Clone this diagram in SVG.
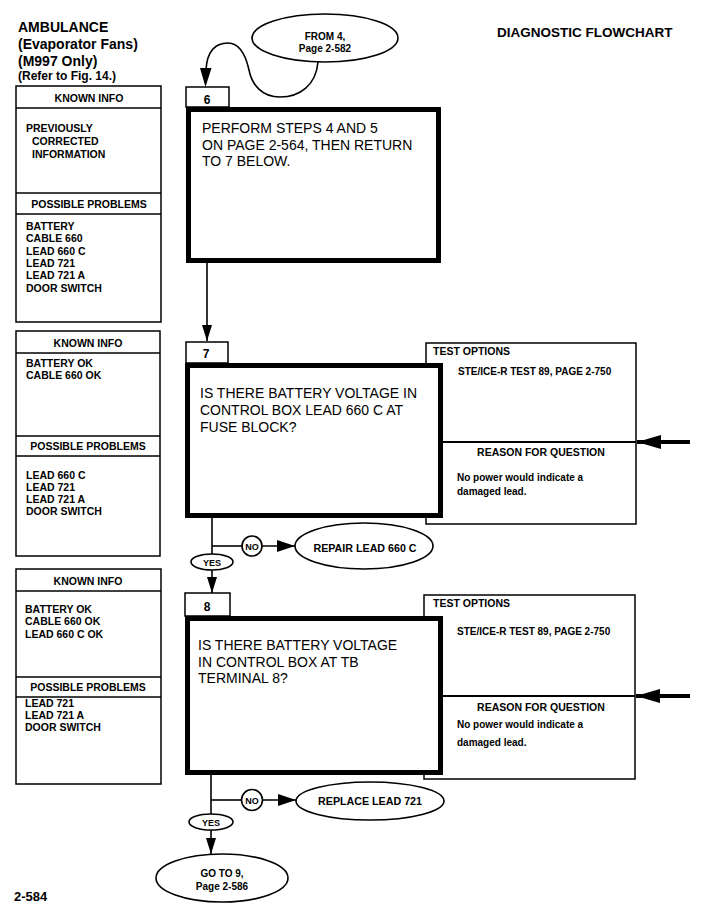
<svg xmlns="http://www.w3.org/2000/svg" width="704" height="921" viewBox="0 0 704 921">
<style>
text{font-family:"Liberation Sans",Arial,Helvetica,sans-serif;fill:#000}
.b{font-weight:bold}
.box{fill:#fff;stroke:#000;stroke-width:1.5}
.thick{fill:#fff;stroke:#000;stroke-width:5}
.ln{fill:none;stroke:#000;stroke-width:1.6}
.dv{fill:none;stroke:#000;stroke-width:2.2}
.big{fill:none;stroke:#000;stroke-width:4}
.h{font-size:10.5px;font-weight:bold}
.it{font-size:10.5px;font-weight:bold}
.q{font-size:14px}
.s{font-size:10px;font-weight:bold}
.ov{font-size:10px;font-weight:bold}
.ovl{font-size:10.7px;font-weight:bold}
.lb{font-size:12px;font-weight:bold}
.yn{font-size:9px;font-weight:bold}
</style>
<defs>
<marker id="ah" viewBox="0 0 16 10" refX="16" refY="5" markerWidth="16" markerHeight="10" orient="auto" markerUnits="userSpaceOnUse"><path d="M0,0L16,5L0,10z" fill="#000"/></marker>
<marker id="ahs" viewBox="0 0 18 12" refX="18" refY="6" markerWidth="18" markerHeight="12" orient="auto" markerUnits="userSpaceOnUse"><path d="M0,0L18,6L0,12z" fill="#000"/></marker>
<marker id="ahb" viewBox="0 0 24 14" refX="24" refY="7" markerWidth="24" markerHeight="14" orient="auto" markerUnits="userSpaceOnUse"><path d="M0,0L24,7L0,14z" fill="#000"/></marker>
</defs>
<rect width="704" height="921" fill="#fff"/>

<g id="title">
<text x="18" y="32" class="b" font-size="14">AMBULANCE</text>
<text x="18" y="49" class="b" font-size="14">(Evaporator Fans)</text>
<text x="18" y="66" class="b" font-size="14">(M997 Only)</text>
<text x="18" y="80" class="b" font-size="12">(Refer to Fig. 14.)</text>
<text x="497" y="37" class="b" font-size="13.5">DIAGNOSTIC FLOWCHART</text>
<text x="14" y="901" class="b" font-size="13">2-584</text>
</g>

<g id="info1">
<rect class="box" x="16" y="86" width="145" height="236"/>
<line class="ln" x1="16" y1="108" x2="161" y2="108"/>
<line class="ln" x1="16" y1="193" x2="161" y2="193"/>
<line class="ln" x1="16" y1="214" x2="161" y2="214"/>
<text x="89" y="102" class="h" text-anchor="middle">KNOWN INFO</text>
<text x="26" y="132" class="it">PREVIOUSLY</text>
<text x="32" y="145" class="it">CORRECTED</text>
<text x="32" y="158" class="it">INFORMATION</text>
<text x="89" y="208" class="h" text-anchor="middle">POSSIBLE PROBLEMS</text>
<text x="26" y="230" class="it">BATTERY</text>
<text x="26" y="242" class="it">CABLE 660</text>
<text x="26" y="255" class="it">LEAD 660 C</text>
<text x="26" y="267" class="it">LEAD 721</text>
<text x="26" y="279" class="it">LEAD 721 A</text>
<text x="26" y="292" class="it">DOOR SWITCH</text>
</g>

<g id="info2">
<rect class="box" x="16" y="331" width="144" height="225"/>
<line class="ln" x1="16" y1="353" x2="160" y2="353"/>
<line class="ln" x1="16" y1="436" x2="160" y2="436"/>
<line class="ln" x1="16" y1="456" x2="160" y2="456"/>
<text x="88" y="347" class="h" text-anchor="middle">KNOWN INFO</text>
<text x="26" y="367" class="it">BATTERY OK</text>
<text x="26" y="379" class="it">CABLE 660 OK</text>
<text x="88" y="450" class="h" text-anchor="middle">POSSIBLE PROBLEMS</text>
<text x="26" y="479" class="it">LEAD 660 C</text>
<text x="26" y="491" class="it">LEAD 721</text>
<text x="26" y="503" class="it">LEAD 721 A</text>
<text x="26" y="515" class="it">DOOR SWITCH</text>
</g>

<g id="info3">
<rect class="box" x="16" y="569" width="145" height="215"/>
<line class="ln" x1="16" y1="591" x2="161" y2="591"/>
<line class="ln" x1="16" y1="677" x2="161" y2="677"/>
<line class="ln" x1="16" y1="697" x2="161" y2="697"/>
<text x="88" y="585" class="h" text-anchor="middle">KNOWN INFO</text>
<text x="25" y="613" class="it">BATTERY OK</text>
<text x="25" y="625" class="it">CABLE 660 OK</text>
<text x="25" y="638" class="it">LEAD 660 C OK</text>
<text x="88" y="691" class="h" text-anchor="middle">POSSIBLE PROBLEMS</text>
<text x="25" y="707" class="it">LEAD 721</text>
<text x="25" y="719" class="it">LEAD 721 A</text>
<text x="25" y="731" class="it">DOOR SWITCH</text>
</g>

<g id="from4">
<ellipse class="ln" cx="325" cy="38" rx="73" ry="24"/>
<text x="325" y="40" class="ov" text-anchor="middle">FROM 4,</text>
<text x="325" y="52" class="ov" text-anchor="middle">Page 2-582</text>
</g>

<g id="test7">
<rect class="box" x="426" y="343" width="210" height="181"/>
<line class="dv" x1="426" y1="442" x2="636" y2="442"/>
<text x="433" y="355" class="h">TEST OPTIONS</text>
<text x="458" y="375" class="s">STE/ICE-R TEST 89, PAGE 2-750</text>
<text x="541" y="456" class="h" text-anchor="middle">REASON FOR QUESTION</text>
<text x="457" y="481" class="s">No power would indicate a</text>
<text x="457" y="495" class="s">damaged lead.</text>
</g>

<g id="test8">
<rect class="box" x="424" y="595" width="211" height="184"/>
<line class="dv" x1="424" y1="696" x2="635" y2="696"/>
<text x="433" y="607" class="h">TEST OPTIONS</text>
<text x="457" y="635" class="s">STE/ICE-R TEST 89, PAGE 2-750</text>
<text x="541" y="711" class="h" text-anchor="middle">REASON FOR QUESTION</text>
<text x="457" y="728" class="s">No power would indicate a</text>
<text x="457" y="746" class="s">damaged lead.</text>
</g>

<g id="step6">
<rect class="thick" x="188.5" y="109.5" width="250" height="151"/>
<rect class="box" x="186" y="87" width="43" height="20"/>
<text x="207" y="104" class="lb" text-anchor="middle">6</text>
<text x="202" y="133" class="q">PERFORM STEPS 4 AND 5</text>
<text x="202" y="150" class="q">ON PAGE 2-564, THEN RETURN</text>
<text x="202" y="166" class="q">TO 7 BELOW.</text>
</g>

<g id="step7">
<rect class="thick" x="187.5" y="365.5" width="253" height="150"/>
<rect class="box" x="186" y="342" width="42" height="21"/>
<text x="206" y="358" class="lb" text-anchor="middle">7</text>
<text x="200" y="398" class="q">IS THERE BATTERY VOLTAGE IN</text>
<text x="200" y="415" class="q">CONTROL BOX LEAD 660 C AT</text>
<text x="200" y="432" class="q">FUSE BLOCK?</text>
</g>

<g id="step8">
<rect class="thick" x="187.5" y="618.5" width="253" height="154"/>
<rect class="box" x="185" y="593" width="45" height="23"/>
<text x="207" y="611" class="lb" text-anchor="middle">8</text>
<text x="198" y="650" class="q">IS THERE BATTERY VOLTAGE</text>
<text x="198" y="667" class="q">IN CONTROL BOX AT TB</text>
<text x="198" y="683" class="q">TERMINAL 8?</text>
</g>

<g id="repair660c">
<ellipse class="ln" cx="364" cy="546" rx="69" ry="23"/>
<text x="365" y="552" class="ovl" text-anchor="middle">REPAIR LEAD 660 C</text>
</g>

<g id="replace721">
<ellipse class="ln" cx="370" cy="801" rx="74" ry="19"/>
<text x="370" y="805" class="ovl" text-anchor="middle">REPLACE LEAD 721</text>
</g>

<g id="goto9">
<ellipse class="ln" cx="222" cy="878" rx="66" ry="24"/>
<text x="222" y="877" class="ov" text-anchor="middle">GO TO 9,</text>
<text x="222" y="890" class="ov" text-anchor="middle">Page 2-586</text>
</g>

<g id="connectors">
<path class="ln" d="M318,62 C316,85 300,97 280,97 C262,97 252,85 249,70 C245,52 238,43 228,43 C215,43 207,52 206,70" />
<path d="M200,68 L211.5,68 L205.5,87 z" fill="#000"/>
<line class="ln" x1="207" y1="263" x2="207" y2="341" marker-end="url(#ah)"/>
<line class="ln" x1="212" y1="518" x2="212" y2="554"/>
<line class="ln" x1="212" y1="546" x2="242" y2="546"/>
<line class="ln" x1="262" y1="546" x2="295" y2="546" marker-end="url(#ahs)"/>
<line class="ln" x1="212" y1="570" x2="212" y2="593" marker-end="url(#ah)"/>
<line class="ln" x1="211" y1="775" x2="211" y2="814"/>
<line class="ln" x1="211" y1="800" x2="241.5" y2="800"/>
<line class="ln" x1="262.5" y1="800" x2="296" y2="800" marker-end="url(#ahs)"/>
<line class="ln" x1="211" y1="830" x2="211" y2="854" marker-end="url(#ah)"/>
<line class="big" x1="690" y1="442" x2="637" y2="442" marker-end="url(#ahb)"/>
<line class="big" x1="690" y1="696" x2="636" y2="696" marker-end="url(#ahb)"/>
</g>

<g id="no7">
<circle class="ln" cx="252" cy="546" r="10"/>
<text x="252" y="549.5" class="yn" text-anchor="middle">NO</text>
</g>
<g id="yes7">
<ellipse class="ln" cx="212" cy="562" rx="21" ry="8"/>
<text x="212" y="565.5" class="yn" text-anchor="middle">YES</text>
</g>
<g id="no8">
<circle class="ln" cx="252" cy="800" r="10.5"/>
<text x="252" y="803.5" class="yn" text-anchor="middle">NO</text>
</g>
<g id="yes8">
<ellipse class="ln" cx="211" cy="822" rx="22" ry="8"/>
<text x="211" y="825.5" class="yn" text-anchor="middle">YES</text>
</g>
</svg>
